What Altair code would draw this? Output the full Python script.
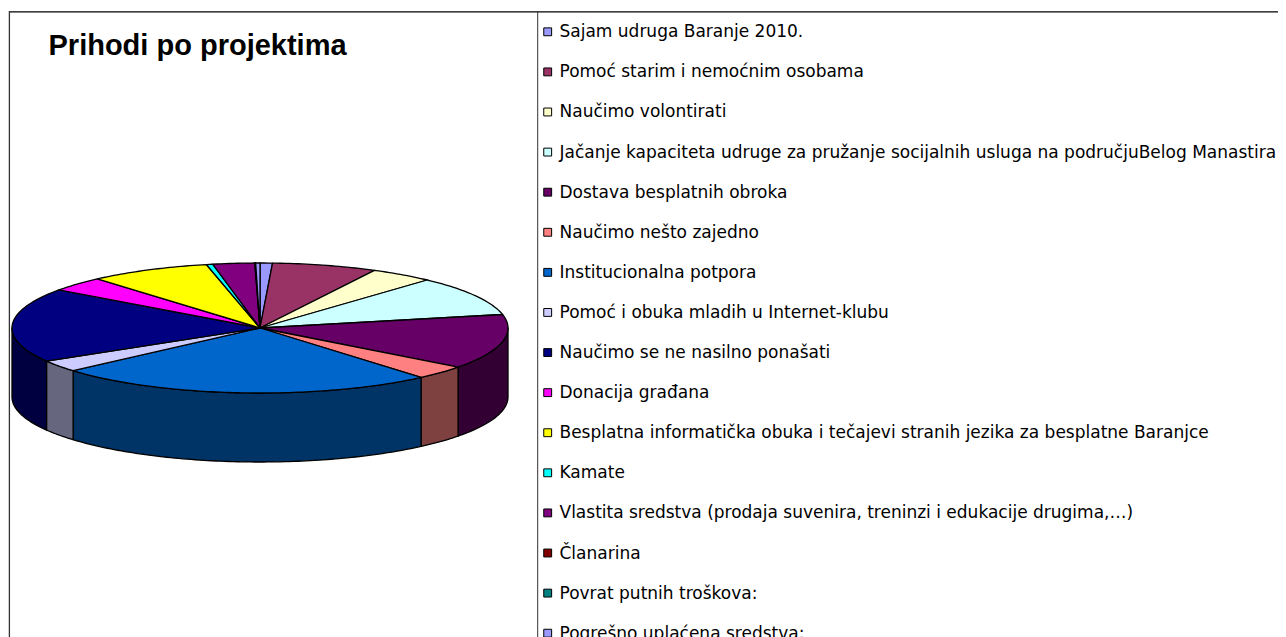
import math
import altair as alt

TITLE = "Prihodi po projektima"
names = [
    "Sajam udruga Baranje 2010.",
    "Pomoć starim i nemoćnim osobama",
    "Naučimo volontirati",
    "Jačanje kapaciteta udruge za pružanje socijalnih usluga na područjuBelog Manastira",
    "Dostava besplatnih obroka",
    "Naučimo nešto zajedno",
    "Institucionalna potpora",
    "Pomoć i obuka mladih u Internet-klubu",
    "Naučimo se ne nasilno ponašati",
    "Donacija građana",
    "Besplatna informatička obuka i tečajevi stranih jezika za besplatne Baranjce",
    "Kamate",
    "Vlastita sredstva (prodaja suvenira, treninzi i edukacije drugima,…)",
    "Članarina",
    "Povrat putnih troškova:",
    "Pogrešno uplaćena sredstva:",
]
values = [2.9, 24.6, 14.9, 35.6, 49.0, 12.5, 89.4, 10.5, 66.4, 13.2, 28.5, 1.5, 9.8, 0.1, 0.1, 1.0]
colors = ["#9999FF", "#993366", "#FFFFCC", "#CCFFFF", "#660066", "#FF8080", "#0066CC", "#CCCCFF",
          "#000080", "#FF00FF", "#FFFF00", "#00FFFF", "#800080", "#800000", "#008080", "#9999FF"]

TILT = 65 / 248
DEPTH = 69 / 248


def darken(c):
    return "#" + "".join(f"{int(c[i:i + 2], 16) // 2:02X}" for i in (1, 3, 5))


def rim(a0, a1, drop=0.0):
    n = max(2, int(abs(a1 - a0) / 1.0) + 1)
    pts = []
    for i in range(n + 1):
        t = math.radians(a0 + (a1 - a0) * i / n)
        pts.append([math.sin(t), math.cos(t) * TILT - drop])
    return pts


total = sum(values)
walls, faces = [], []
acc = 0.0
for name, v, c in zip(names, values, colors):
    a0 = acc / total * 360
    acc += v
    a1 = acc / total * 360
    faces.append({"type": "Feature", "properties": {"name": name, "fill": c},
                  "geometry": {"type": "Polygon",
                               "coordinates": [[[0, 0]] + rim(a0, a1) + [[0, 0]]]}})
    lo, hi = max(a0, 90), min(a1, 270)
    if hi > lo:
        ring = rim(lo, hi) + rim(hi, lo, DEPTH)
        ring.append(ring[0])
        walls.append({"type": "Feature", "properties": {"name": name, "fill": darken(c)},
                      "geometry": {"type": "Polygon", "coordinates": [ring]}})


def pie_layer(features):
    return (
        alt.Chart(alt.Data(values=features))
        .mark_geoshape(stroke="#000000", strokeWidth=1.3, strokeJoin="round")
        .encode(fill=alt.Fill("properties.fill:N", scale=None), tooltip=alt.Tooltip("properties.name:N"))
        .project(type="identity", scale=248, translate=[252, 320], reflectY=True)
    )


legend_rows = [{"row": i, "name": n, "fill": c} for i, (n, c) in enumerate(zip(names, colors))]
row_y = alt.Y("row:Q", scale=alt.Scale(domain=[0, 15], range=[23.8, 625.2]), axis=None)

squares = alt.Chart(alt.Data(values=legend_rows)).mark_square(
    size=62, opacity=1, stroke="#000000", strokeWidth=1, filled=True
).encode(x=alt.value(539.7), y=row_y, fill=alt.Fill("fill:N", scale=None), stroke=alt.value("#000000"))

labels = alt.Chart(alt.Data(values=legend_rows)).mark_text(
    align="left", baseline="alphabetic", dy=5.5, font="DejaVu Sans", fontSize=17, color="#000000"
).encode(x=alt.value(551.5), y=row_y, text="name:N")

title = alt.Chart(alt.Data(values=[{"t": TITLE}])).mark_text(
    align="left", baseline="alphabetic", font="Liberation Sans", fontSize=29, fontWeight="bold", color="#000000"
).encode(x=alt.value(40.5), y=alt.value(46.5), text="t:N")

frame_top = alt.Chart(alt.Data(values=[{"k": 0}])).mark_rule(color="#000000", strokeWidth=1.3).encode(
    x=alt.value(1), x2=alt.value(1270), y=alt.value(3.8))
frame_left = alt.Chart(alt.Data(values=[{"k": 0}])).mark_rule(color="#333333", strokeWidth=1.3).encode(
    x=alt.value(1.4), y=alt.value(3), y2=alt.value(629))
divider = alt.Chart(alt.Data(values=[{"k": 0}])).mark_rule(color="#333333", strokeWidth=1).encode(
    x=alt.value(529.7), y=alt.value(3), y2=alt.value(629))

chart = alt.layer(
    pie_layer(walls), pie_layer(faces), frame_top, frame_left, divider, squares, labels, title
).resolve_scale(y="independent").properties(
    width=1270, height=629, padding=0, autosize="none", background="#FFFFFF",
).configure_view(stroke=None)

chart.save("out.html", embed_options={"renderer": "svg", "actions": False})
